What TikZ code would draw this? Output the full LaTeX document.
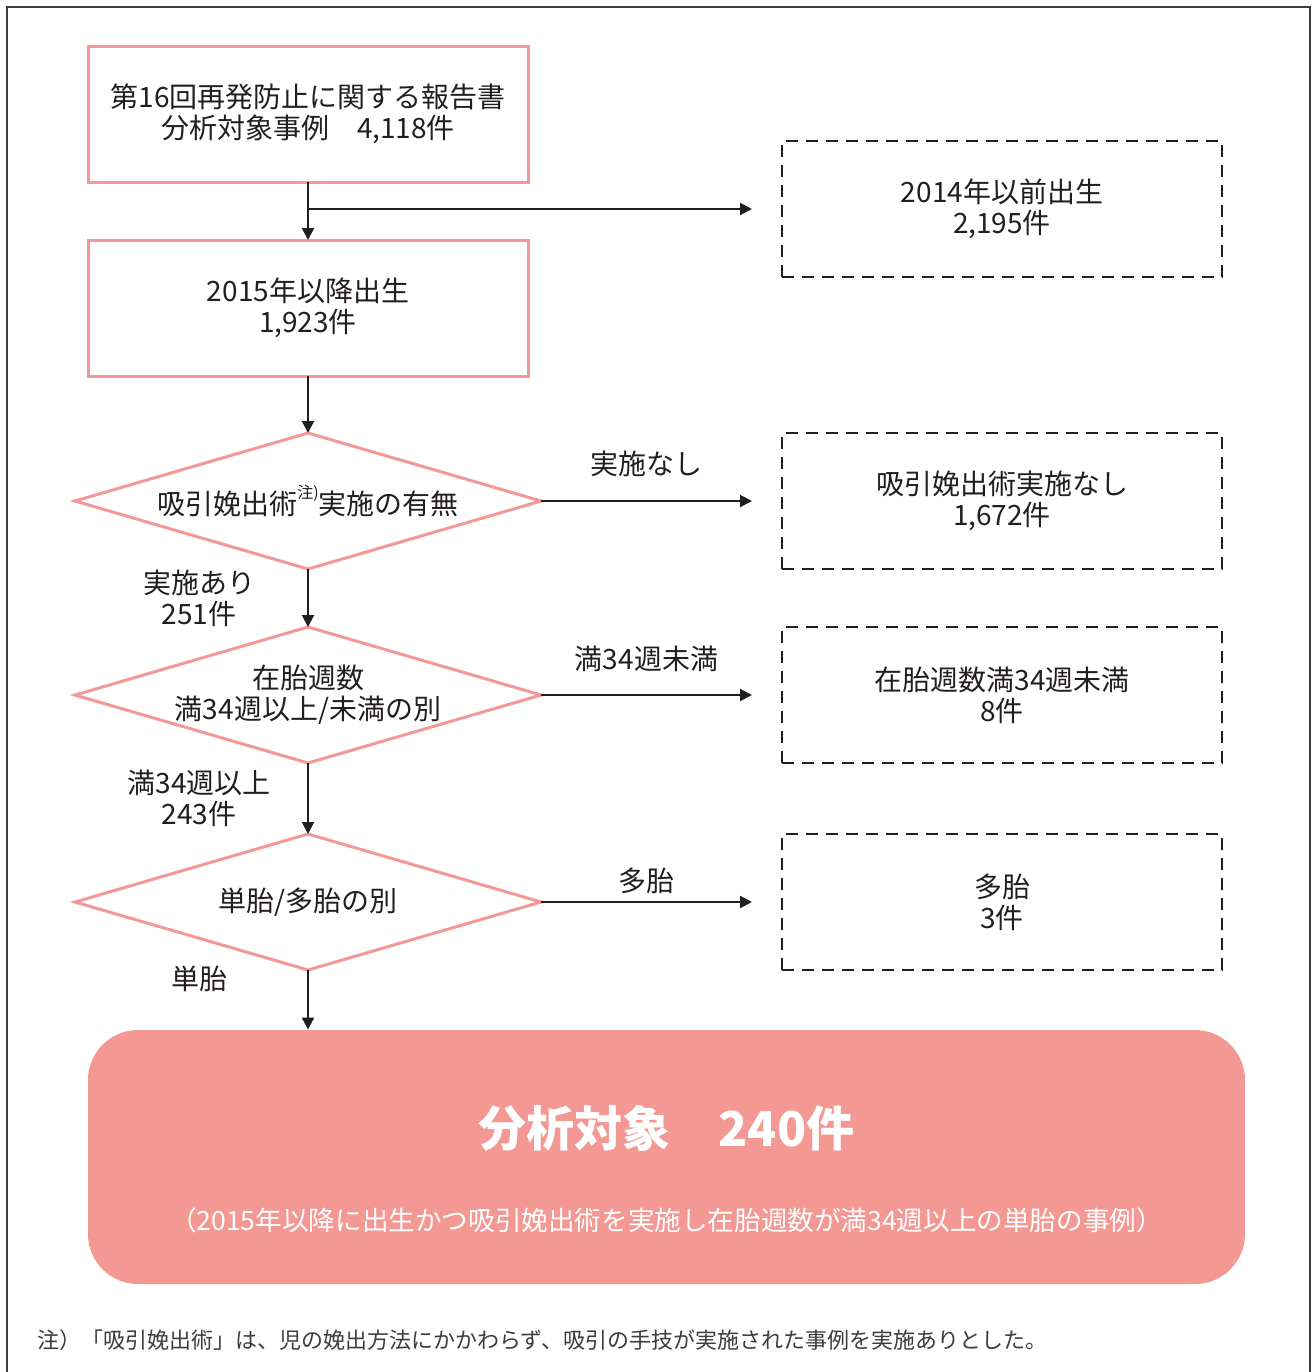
\documentclass[tikz,border=0pt]{standalone}
\usepackage{fontspec}
\setmainfont{Noto Sans CJK JP}
\usetikzlibrary{arrows.meta,positioning,shapes.geometric}
\definecolor{pinkline}{RGB}{242,152,152}
\definecolor{pinkfill}{RGB}{244,152,148}
\definecolor{inkblack}{RGB}{35,30,30}
\definecolor{framegray}{RGB}{60,60,60}

\begin{document}
\begin{tikzpicture}[x=0.5pt,y=-0.5pt]
			\tikzstyle{block} = [rectangle, draw=pinkline, line width=1.5pt, outer sep=0pt, minimum width=220pt, minimum height=68pt, align=center, text=inkblack, font=\fontsize{14}{15.5}\selectfont]
			\tikzstyle{decision} = [diamond, draw=pinkline, line width=1.5pt, outer sep=0pt, aspect=3.43, minimum width=233pt, minimum height=68pt, inner sep=-3pt, align=center, text=inkblack, font=\fontsize{14}{15.5}\selectfont]
			\tikzstyle{excluded} = [rectangle, draw=inkblack, line width=1pt, outer sep=0pt, dash pattern=on 6pt off 4pt, minimum width=220pt, minimum height=68pt, align=center, text=inkblack, font=\fontsize{14}{15.5}\selectfont]
			\tikzstyle{branchtext} = [align=center, text=inkblack, font=\fontsize{14}{15.5}\selectfont]
			\tikzstyle{arrow} = [draw=inkblack, line width=1pt, -{Triangle[length=6pt,width=6pt]}]

			\useasboundingbox (0,0) rectangle (1316,1372);
			\draw[framegray, line width=0.9pt] (7,1372) -- (7,7) -- (1310,7) -- (1310,1372);

			\node [block] (report) at (308,114) {第16回再発防止に関する報告書\\分析対象事例　4,118件};
			\node [block, below=29pt of report] (born2015) {2015年以降出生\\1,923件};
			\node [decision, below=28.5pt of born2015] (vacuum) {吸引娩出術\raisebox{0.55em}{\fontsize{8}{8}\selectfont 注)}実施の有無};
			\node [decision, below=29pt of vacuum] (weeks) {在胎週数\\満34週以上/未満の別};
			\node [decision, below=35.5pt of weeks] (multiple) {単胎/多胎の別};

			\node [excluded, right=120.5pt of vacuum] (novacuum) {吸引娩出術実施なし\\1,672件};
			\node [excluded, right=120.5pt of weeks] (preterm) {在胎週数満34週未満\\8件};
			\node [excluded, right=120.5pt of multiple] (twins) {多胎\\3件};
			\node [excluded, above=78pt of novacuum] (born2014) {2014年以前出生\\2,195件};

			\node [fill=pinkfill, rounded corners=25pt, minimum width=578.5pt, minimum height=127pt] (result) at (666.5,1157) {};
			\node [text=white, font=\fontsize{24}{29}\selectfont\bfseries] (title) at ([yshift=14.5pt]result.center) {分析対象　240件};
			\node [text=white, font=\fontsize{13.3}{15}\selectfont] (criteria) at ([yshift=-31.5pt]result.center) {（2015年以降に出生かつ吸引娩出術を実施し在胎週数が満34週以上の単胎の事例）};

			\node [anchor=west, text=framegray, font=\fontsize{11}{13}\selectfont] (note) at (30,1340) {注）「吸引娩出術」は、児の娩出方法にかかわらず、吸引の手技が実施された事例を実施ありとした。};

			\path[arrow] (report) -- (born2015);
			\path[arrow] (report.south |- born2014.west) -- ([xshift=-15pt]born2014.west);
			\path[arrow] (born2015) -- (vacuum);
			\path[arrow] (vacuum) -- node[branchtext, yshift=18.5pt] {実施なし} ([xshift=-15pt]novacuum.west);
			\path[arrow] (vacuum) -- node[branchtext, xshift=-54.5pt] {実施あり\\251件} (weeks);
			\path[arrow] (weeks) -- node[branchtext, yshift=18pt] {満34週未満} ([xshift=-15pt]preterm.west);
			\path[arrow] (weeks) -- node[branchtext, xshift=-54.5pt] {満34週以上\\243件} (multiple);
			\path[arrow] (multiple) -- node[branchtext, yshift=10.5pt] {多胎} ([xshift=-15pt]twins.west);
			\path[arrow] (multiple) -- node[branchtext, pos=0.15, xshift=-54.5pt] {単胎} (multiple |- result.north);
		\end{tikzpicture}
\end{document}
